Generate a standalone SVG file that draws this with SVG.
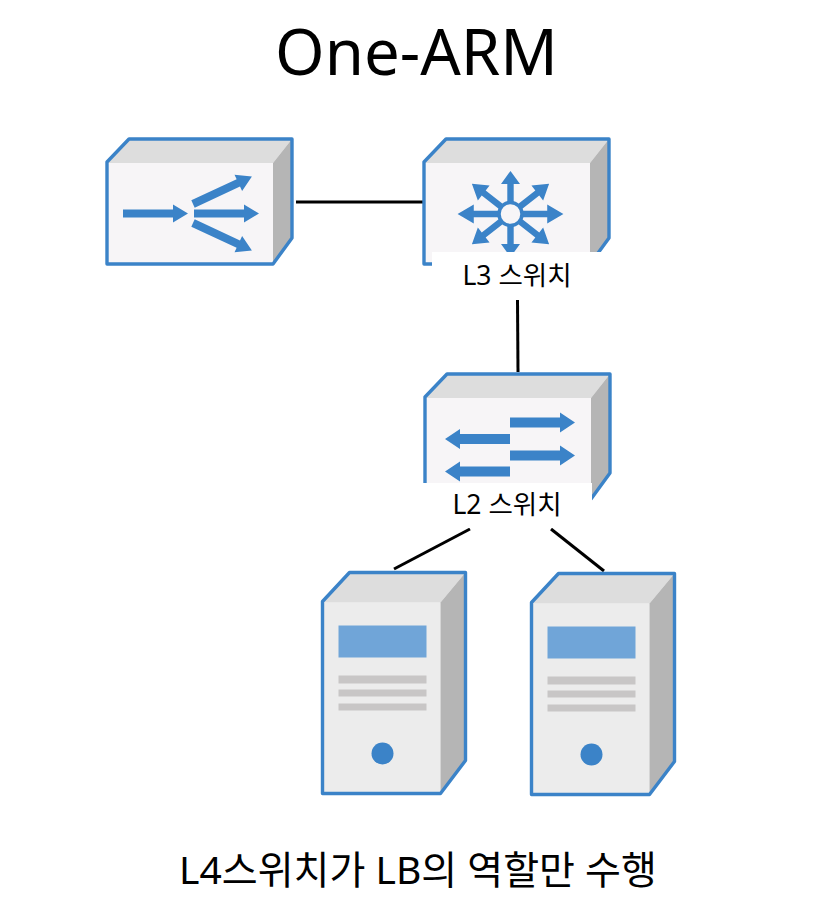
<svg xmlns="http://www.w3.org/2000/svg" width="835" height="918" viewBox="0 0 835 918">
<style>
text{font-family:"Noto Sans","Noto Sans CJK KR",sans-serif;fill:#000;text-anchor:middle}
.out{fill:none;stroke:#3b83c8;stroke-width:3.4;stroke-linejoin:round}
.top{fill:#dddddd}.side{fill:#b5b5b5}.front{fill:#f7f5f7}.sfront{fill:#ececec}
.b{fill:#3b83c8}.bar{fill:#c8c6c6}.scr{fill:#70a5d8}.cov{fill:#fff}
.c{stroke:#000;stroke-width:3;fill:none}
</style>
<defs>
<g id="box">
<polygon class="front" points="0,24 166,24 166,125 0,125"/>
<polygon class="top" points="0,24 22,0 185,0 166,24"/>
<polygon class="side" points="166,24 185,0 185,99 166,125"/>
<path class="out" d="M0,23 L22,0 H185 V99 L166,125 H0 Z"/>
</g>
<g id="srv">
<polygon class="sfront" points="0,30 118,30 118,221 0,221"/>
<polygon class="top" points="0,30 27,0 143,0 118,30"/>
<polygon class="side" points="118,30 143,0 143,188 118,221"/>
<path class="out" d="M0,29 L27,0 H143 V188 L118,221 H0 Z"/>
<rect class="scr" x="16" y="53" width="88" height="32"/>
<rect class="bar" x="16" y="103" width="88" height="8"/>
<rect class="bar" x="16" y="117" width="88" height="7"/>
<rect class="bar" x="16" y="131" width="88" height="7"/>
<circle class="b" cx="60" cy="181" r="11"/>
</g>
<polygon id="a1" class="b" points="0,-4 50,-4 50,-9 65,0 50,9 50,4 0,4"/>
<polygon id="a2" class="b" points="0,-5 50,-5 50,-10 65,0 50,10 50,5 0,5"/>
<polygon id="a3" class="b" points="0,-3.200 34,-3.200 34,-9.500 49,0 34,9.500 34,3.200 0,3.200"/>
</defs>
<g id="connectors">
<line class="c" x1="296" y1="202" x2="424" y2="202"/>
<line class="c" x1="517.5" y1="300" x2="518" y2="372"/>
<line class="c" x1="470" y1="529" x2="394" y2="569"/>
<line class="c" x1="551" y1="529" x2="604" y2="571"/>
</g>
<text id="title" x="416.500" y="75" font-size="63.500">One-ARM</text>
<g id="load-balancer">
<use href="#box" x="107" y="139"/>
<use href="#a1" transform="translate(123,213.500)"/>
<use href="#a1" transform="translate(194,213.500)"/>
<use href="#a1" transform="translate(193,204) rotate(-25)"/>
<use href="#a1" transform="translate(193,223) rotate(25)"/>
</g>
<g id="l3-switch">
<use href="#box" x="424" y="139"/>
<use href="#a3" transform="translate(510.500,214) rotate(-90) scale(.88,1)"/>
<use href="#a3" transform="translate(510.500,214) rotate(90) scale(.88,1)"/>
<use href="#a3" transform="translate(510.500,214) scale(1.08,1)"/>
<use href="#a3" transform="translate(510.500,214) rotate(180) scale(1.08,1)"/>
<use href="#a3" transform="translate(510.500,214) rotate(-38)"/>
<use href="#a3" transform="translate(510.500,214) rotate(38)"/>
<use href="#a3" transform="translate(510.500,214) rotate(142)"/>
<use href="#a3" transform="translate(510.500,214) rotate(218)"/>
<circle cx="510.500" cy="214" r="11.500" fill="#f7f5f7" stroke="#3b83c8" stroke-width="3.500"/>
<rect class="cov" x="432" y="252" width="176" height="48"/>
<text x="517" y="285" font-size="26.500">L3 스위치</text>
</g>
<g id="l2-switch">
<use href="#box" x="425" y="374"/>
<use href="#a2" transform="translate(510,422.500)"/>
<use href="#a2" transform="translate(510,455.500)"/>
<use href="#a2" transform="translate(510,439) rotate(180)"/>
<use href="#a2" transform="translate(510,471.500) rotate(180)"/>
<rect class="cov" x="423" y="483" width="169" height="45"/>
<text x="507" y="514" font-size="26.500">L2 스위치</text>
</g>
<g id="server-1"><use href="#srv" x="322.500" y="572.500"/></g>
<g id="server-2"><use href="#srv" x="531.500" y="573.500"/></g>
<text id="caption" x="418" y="884" font-size="39">L4스위치가 LB의 역할만 수행</text>
</svg>
